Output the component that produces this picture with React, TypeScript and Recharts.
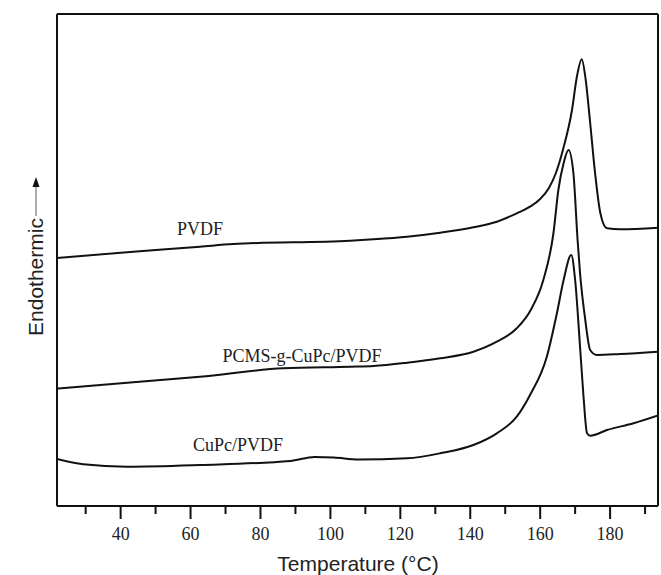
import React from 'react'
import { LineChart, Line, XAxis, YAxis } from 'recharts'

// DSC traces (signal in arbitrary units, endo up)
const pvdfTemp = [21.8, 43.6, 62.7, 72.2, 105.6, 112.3, 121.9, 131.4, 140.9, 147.6, 153.3, 157.1, 160.0, 162.5, 164.5, 166.5, 169.1, 170.5, 171.9, 172.9, 174.3, 175.7, 177.2, 179.1, 182.9, 193.7]
const pvdfSignal = [248, 254.3, 259.3, 262, 265.3, 266.7, 269.3, 273.3, 278.7, 284.3, 292.7, 299.3, 307, 318, 333, 356, 396, 429.3, 446.7, 429.3, 383, 333, 293, 277.7, 276.7, 278.3]

const pcmsTemp = [21.8, 43.6, 62.7, 86.5, 105.6, 112.3, 121.9, 131.4, 140.9, 147.6, 153.3, 157.3, 160.9, 163.8, 165.2, 166.7, 168.1, 169.5, 170.7, 171.4, 172.9, 174.3, 176.2, 182.9, 193.7]
const pcmsSignal = [117.5, 123.7, 129.3, 137.7, 139.3, 140, 143.3, 147.7, 154.3, 164.3, 177.7, 196, 226, 273, 316, 342.7, 356, 333, 266, 233, 186, 156, 151, 152, 154.3]

const cupcTemp = [21.8, 29.3, 41.7, 62.7, 88.5, 95.5, 101, 108, 121.9, 131.4, 140.9, 147.6, 153.3, 157.1, 161.9, 164.8, 166.7, 168.9, 170.0, 171.4, 172.4, 173.4, 174.3, 179.1, 186.7, 193.7]
const cupcSignal = [47, 41.7, 39.3, 41, 45, 49, 48.5, 46.5, 47.7, 52.7, 61, 72.7, 89.3, 111, 149.3, 193, 226, 251, 226, 159.3, 109.3, 72.7, 70.3, 76, 82.7, 90.5]

const xTicks = [30, 40, 50, 60, 70, 80, 90, 100, 110, 120, 130, 140, 150, 160, 170, 180, 190]

const seriesNames = ['PVDF', 'PCMS-g-CuPc/PVDF', 'CuPc/PVDF']

const toPoints = (temps: number[], values: number[]) => temps.map((t, i) => ({ t, v: values[i] }))

const frame = { stroke: '#111', strokeWidth: 2 }
const serif = { fontFamily: '"Liberation Serif", serif' }
const sans = { fontFamily: '"Liberation Sans", sans-serif' }

const TickMark = (props: any) => {
  const { x, y, payload } = props
  const major = payload.value % 20 === 0
  return (
    <g>
      <line x1={x} x2={x} y1={y} y2={y + (major ? 13 : 8)} stroke="#111" strokeWidth={2} />
      {major && (
        <text x={x} y={y + 34} textAnchor="middle" style={serif} fontSize={18} fill="#222">
          {payload.value}
        </text>
      )}
    </g>
  )
}

const App = () => {
  const series = [toPoints(pvdfTemp, pvdfSignal), toPoints(pcmsTemp, pcmsSignal), toPoints(cupcTemp, cupcSignal)]

  return (
    <div style={{ position: 'absolute', left: 0, top: 0, width: 661, height: 575, background: '#fff' }}>
      <LineChart width={661} height={575} margin={{ top: 13, right: 2, bottom: 68, left: 56 }}>
        <XAxis
          xAxisId="b"
          type="number"
          dataKey="t"
          domain={[21.8, 193.7]}
          ticks={xTicks}
          interval={0}
          tick={<TickMark />}
          tickLine={false}
          tickSize={0}
          tickMargin={0}
          height={1}
          axisLine={frame}
          allowDataOverflow
        />
        <XAxis
          xAxisId="top"
          orientation="top"
          type="number"
          dataKey="t"
          domain={[21.8, 193.7]}
          tick={false}
          tickLine={false}
          height={1}
          axisLine={frame}
          allowDataOverflow
        />
        <YAxis yAxisId="l" type="number" domain={[0, 492]} tick={false} tickLine={false} width={1} axisLine={frame} allowDataOverflow />
        <YAxis
          yAxisId="r"
          orientation="right"
          type="number"
          domain={[0, 492]}
          tick={false}
          tickLine={false}
          width={1}
          axisLine={frame}
          allowDataOverflow
        />
        {series.map((d, i) => (
          <Line
            key={seriesNames[i]}
            xAxisId="b"
            yAxisId="l"
            data={d}
            dataKey="v"
            type="monotone"
            stroke="#111"
            strokeWidth={2}
            dot={false}
            isAnimationActive={false}
          />
        ))}
        {/* invisible carrier so the top/right frame axes get a series */}
        <Line xAxisId="top" yAxisId="r" data={series[0]} dataKey="v" stroke="none" dot={false} legendType="none" isAnimationActive={false} />
      </LineChart>
      <svg width={661} height={575} style={{ position: 'absolute', left: 0, top: 0, pointerEvents: 'none' }}>
        <g style={serif} fontSize={18} fill="#222" textAnchor="middle">
          <text x={200} y={235}>{seriesNames[0]}</text>
          <text x={302} y={362}>{seriesNames[1]}</text>
          <text x={238} y={451}>{seriesNames[2]}</text>
        </g>
        <text x={358} y={571} textAnchor="middle" style={sans} fontSize={21} fill="#222">
          Temperature (°C)
        </text>
        <text x={43} y={277} textAnchor="middle" style={sans} fontSize={21} fill="#222" transform="rotate(-90 43 277)">
          Endothermic
        </text>
        <line x1={36} x2={36} y1={216} y2={185} stroke="#777" strokeWidth={1.2} />
        <polygon points="36,177 32.5,187 39.5,187" fill="#111" />
      </svg>
    </div>
  )
}

export default App
